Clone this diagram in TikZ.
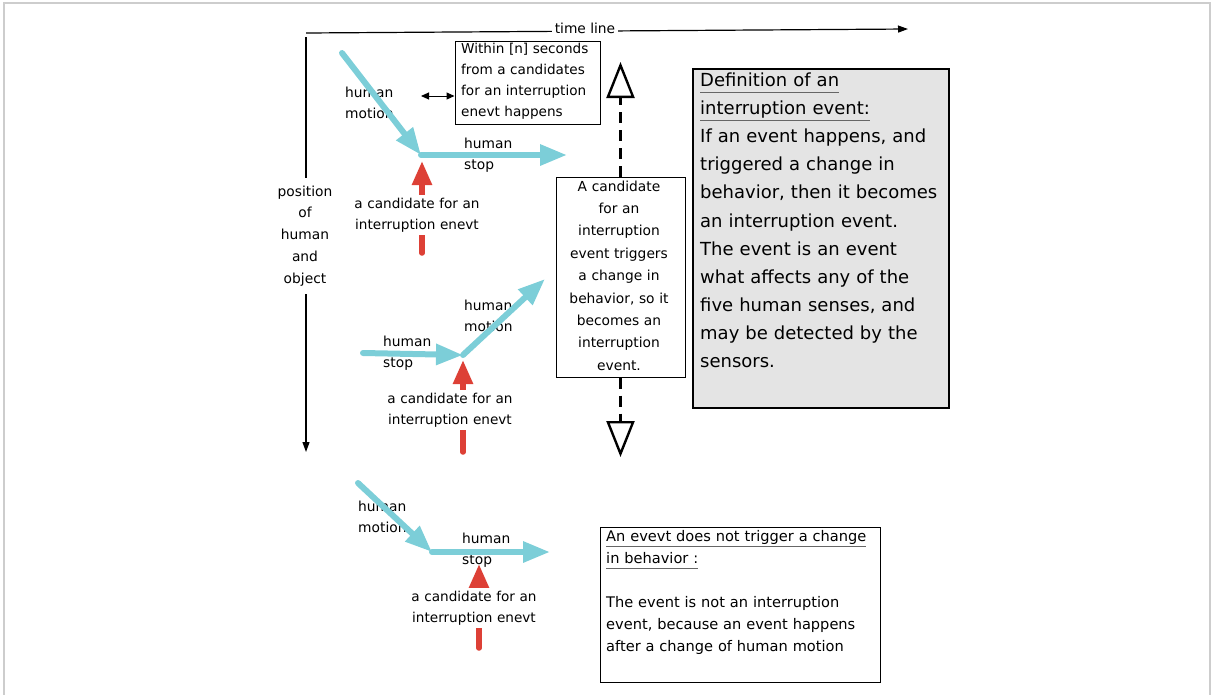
\documentclass[tikz,border=0pt]{standalone}
\usepackage{fontspec}
\setmainfont{DejaVu Sans}
\usetikzlibrary{arrows.meta}
\definecolor{motioncyan}{RGB}{124,206,216}
\definecolor{eventred}{RGB}{221,64,54}
\definecolor{notegray}{RGB}{228,228,228}
\definecolor{framegray}{RGB}{205,205,205}
\newcommand{\undertext}[1]{\leavevmode\setbox0=\hbox{#1}\rlap{\textcolor{black!60}{\rule[-6pt]{\wd0}{0.9pt}}}\box0}
\tikzset{
  timeaxis/.style={line width=1.2pt, -{Triangle[length=10pt, width=7pt]}}, % time and position axes
  axistext/.style={font=\fontsize{13.8}{21.8}\selectfont, fill=white, inner sep=3pt, anchor=base}, % labels sitting on the axes
  motion/.style={line width=6pt, motioncyan, line cap=round, -{Triangle[length=27pt, width=20pt]}}, % movement of the human
  candidate/.style={line width=5.5pt, eventred, line cap=round, -{Triangle[length=24pt, width=19pt]}}, % candidate marker
  tag/.style={font=\fontsize{13.8}{21}\selectfont, inner sep=0pt, text width=80pt, align=left, anchor=base west}, % human motion / stop
  candtext/.style={font=\fontsize{13.6}{21}\selectfont, fill=white, inner xsep=2pt, inner ysep=3pt, text width=130pt, align=center, anchor=base},
  notebox/.style={draw, line width=1pt}, % plain explanation boxes
  defbox/.style={draw, line width=2pt, fill=notegray}, % the definition
  dashlink/.style={line width=2.4pt, dash pattern=on 11pt off 7pt, -{Triangle[open, length=36pt, width=28pt]}},
}

\begin{document}
\begin{tikzpicture}[x=1pt, y=-1pt]
  \useasboundingbox (0,0) rectangle (1212,694);
  \draw[framegray, line width=2pt] (4,700) -- (4,3) -- (1210,3) -- (1210,700);

  % axes
  \coordinate (origin) at (306,33);
  \coordinate (space start) at (306,37);
  \coordinate (time end) at (908,29);
  \coordinate (space end) at (306,452);
  \draw[timeaxis] (origin) -- (time end);
  \draw[timeaxis] (space start) -- (space end);
  \node[axistext] (timelabel) at (585,33) {time line};
  \node[axistext, text width=62pt, align=center, inner ysep=8pt] (spacelabel) at (305,196) {position\\of\\human\\and\\object};

  % boxes
  \node[notebox, minimum width=145pt, minimum height=83pt] (within) at (527.5,82.5) {};
  \node[notebox, minimum width=129pt, minimum height=200pt] (becomes) at (620.5,277) {};
  \node[defbox, minimum width=256pt, minimum height=339pt] (definition) at (821,238.5) {};
  \node[notebox, minimum width=280pt, minimum height=155pt] (notevent) at (740,604.5) {};

  \node[font=\fontsize{13.6}{21}\selectfont, inner sep=0pt, text width=150pt, align=left, anchor=base west] (withintext) at (461,53)
    {Within [n] seconds\\from a candidates\\for an interruption\\enevt happens};
  \node[font=\fontsize{13.8}{22.4}\selectfont, inner sep=0pt, text width=125pt, align=center, anchor=base] (becomestext) at (619,191)
    {A candidate\\for an\\interruption\\event triggers\\a change in\\behavior, so it\\becomes an\\interruption\\event.};
  \node[font=\fontsize{18}{28.1}\selectfont, inner sep=0pt, text width=250pt, align=left, anchor=base west] (definitiontext) at (700,86.5)
    {\undertext{Definition of an}\\\undertext{interruption event:}\\If an event happens, and\\triggered a change in\\behavior, then it becomes\\an interruption event.\\The event is an event\\what affects any of the\\five human senses, and\\may be detected by the\\sensors.};
  \node[font=\fontsize{14.6}{22}\selectfont, inner sep=0pt, text width=275pt, align=left, anchor=base west] (noteventtext) at (606,541)
    {\undertext{An evevt does not trigger a change}\\\undertext{in behavior :}\\[22pt]The event is not an interruption\\event, because an event happens\\after a change of human motion};

  % the window of [n] seconds and the two outcomes
  \coordinate (gap) at (421,96);
  \draw[line width=1pt, {Triangle[length=8pt, width=7pt]}-{Triangle[length=8pt, width=7pt]}] (gap) -- (gap -| within.west);
  \coordinate (upper end) at (620.5,62);
  \coordinate (lower end) at (620.5,457);
  \draw[dashlink] (becomes.north) -- (upper end);
  \draw[dashlink] (becomes.south) -- (lower end);

  % case 1: motion, then stop
  \node[tag] (motion1) at (345,97) {human\\motion};
  \node[tag] (stop1) at (464,148) {human\\stop};
  \coordinate (m1a) at (342,53);
  \coordinate (m1b) at (421,155);
  \coordinate (m1c) at (567,155);
  \draw[motion] (m1a) -- (m1b);
  \draw[motion] (m1b) -- (m1c);
  \coordinate (c1foot) at (422,253);
  \coordinate (c1tip) at (422,161);
  \draw[candidate] (c1foot) -- (c1tip);
  \node[candtext] (cand1) at (417,208) {a candidate for an\\interruption enevt};

  % case 2: stop, then motion
  \node[tag] (stop2) at (383,346) {human\\stop};
  \node[tag] (motion2) at (464,310) {human\\motion};
  \coordinate (m2a) at (363,353);
  \coordinate (m2b) at (463,355);
  \coordinate (m2c) at (545,279);
  \draw[motion] (m2a) -- (m2b);
  \draw[motion] (m2b) -- (m2c);
  \coordinate (c2foot) at (463,452);
  \coordinate (c2tip) at (463,360);
  \draw[candidate] (c2foot) -- (c2tip);
  \node[candtext] (cand2) at (450,403) {a candidate for an\\interruption enevt};

  % case 3: the event comes after the change
  \node[tag] (motion3) at (358,511) {human\\motion};
  \node[tag] (stop3) at (462,543) {human\\stop};
  \coordinate (m3a) at (358,483);
  \coordinate (m3b) at (432,552);
  \coordinate (m3c) at (550,552);
  \draw[motion] (m3a) -- (m3b);
  \draw[motion] (m3b) -- (m3c);
  \coordinate (c3foot) at (479,648);
  \coordinate (c3tip) at (479,564);
  \draw[candidate] (c3foot) -- (c3tip);
  \node[candtext] (cand3) at (474,601) {a candidate for an\\interruption enevt};
\end{tikzpicture}
\end{document}
